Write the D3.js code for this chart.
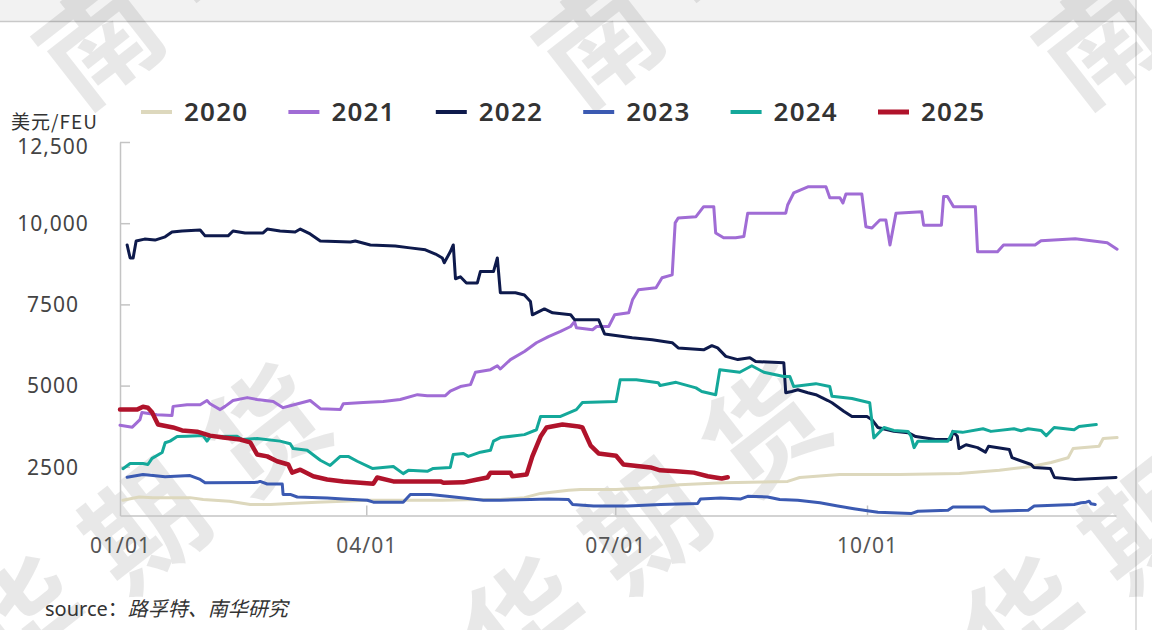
<!DOCTYPE html>
<html>
<head>
<meta charset="utf-8">
<script src="https://cdn.jsdelivr.net/npm/d3@7"></script>
<style>
  body { margin: 0; background: #fff; }
  svg { display: block; font-family: "Noto Sans", "Noto Sans CJK SC", sans-serif; }
</style>
</head>
<body>
<svg id="chart" width="1152" height="630"></svg>
<script>
// Series: [day of year, USD/FEU]
const s2020 = [[1,1470],[7,1570],[12,1550],[25.6,1550],[30.4,1490],[40,1440],[47.6,1340],[55,1340],[62,1370],[72,1410],[81.6,1440],[90.4,1470],[106,1470],[118,1470],[130.6,1490],[139,1490],[147.8,1550],[153.7,1680],[164,1780],[168.3,1800],[181.3,1800],[194.5,1860],[204.5,1950],[220.6,2010],[244,2050],[248.4,2170],[263,2260],[285,2260],[306.8,2290],[321.4,2390],[333,2510],[340.3,2630],[346.5,2780],[348.3,3060],[357.8,3130],[359.3,3370],[364.4,3400]];
const s2021 = [[0,3780],[4.5,3720],[7.3,3950],[8,4170],[13.5,4100],[19,4080],[19.4,4360],[24.5,4410],[29.3,4410],[31.8,4540],[32.9,4440],[36.6,4260],[38.4,4360],[41.3,4540],[46.5,4630],[50.1,4570],[56,4510],[59.6,4320],[62.2,4380],[69.5,4540],[73.2,4290],[80.5,4260],[81.6,4440],[88.9,4480],[96.2,4510],[102.4,4570],[108.7,4720],[112.3,4690],[118.9,4690],[120.7,4830],[124.4,4970],[128.1,5030],[129.9,5410],[135.4,5490],[137.9,5610],[139,5510],[142.7,5800],[147.8,6050],[152.2,6320],[156.6,6510],[161,6670],[164.7,6820],[166.1,6970],[166.8,6780],[172.7,6720],[174.2,6820],[178.6,6820],[180.8,7180],[185.9,7240],[187.3,7640],[189.5,7950],[195.9,8010],[198.1,8320],[201.8,8410],[202.9,10010],[204,10160],[210.5,10200],[213.3,10510],[217,10510],[217.7,9700],[220.6,9550],[225,9550],[228,9590],[229.4,10310],[243.3,10310],[244,10560],[246.2,10930],[251.4,11120],[258,11120],[259.4,10780],[263.1,10780],[264.2,10620],[265.3,10900],[271.1,10900],[272.6,9890],[274.8,9850],[277.7,10100],[279.9,10100],[281.4,9330],[283.6,10310],[293,10350],[293.7,9940],[300.2,9940],[301,10820],[302.4,10820],[304.6,10510],[312.6,10510],[313.4,9120],[320.7,9120],[322.9,9330],[334.4,9330],[336.6,9460],[349.1,9520],[360.8,9400],[364.4,9200]];
const s2022 = [[2.6,9330],[3.7,8930],[4.8,8930],[5.9,9450],[9,9510],[12.8,9480],[16.5,9580],[19,9730],[22.7,9760],[29.3,9790],[31.1,9610],[39.5,9610],[41.3,9760],[45.7,9700],[52.3,9700],[53.8,9820],[58.5,9760],[64,9730],[65.9,9820],[69.5,9670],[73.2,9450],[84.2,9420],[86,9450],[91.5,9330],[100.6,9300],[106,9240],[111.6,9180],[115.3,9050],[117.8,8930],[118.5,8780],[120.7,9120],[121.8,9330],[122.6,8290],[124.4,8350],[126.6,8160],[130.6,8160],[131.7,8510],[136.5,8510],[137.9,8930],[139,7860],[144.5,7860],[147.8,7790],[150,7590],[150.7,7180],[155.1,7360],[158.1,7240],[164.7,7180],[166.1,7030],[174.9,7030],[177.1,6590],[187.2,6470],[194.5,6410],[201.8,6320],[204,6160],[213.3,6100],[216.3,6230],[218.4,6160],[221.4,5900],[225.8,5800],[230.2,5860],[232.3,5740],[242.6,5700],[243.3,4780],[245.5,4820],[247.7,4870],[251.4,4780],[254.3,4720],[258.7,4540],[260.2,4470],[264.5,4210],[267.5,4050],[273,4050],[274.8,3950],[277,3710],[282.8,3590],[288,3550],[290.8,3430],[298,3340],[303.7,3340],[304.4,3590],[306,3440],[306.6,3060],[309.2,3180],[313.4,3090],[316.3,2950],[317.4,3130],[325,3030],[326,2780],[333,2570],[334,2480],[340,2450],[341.5,2170],[349,2110],[364,2170]];
const s2023 = [[2.6,2180],[8.4,2260],[12.1,2230],[16.5,2190],[25.6,2230],[29.3,2110],[31.1,2010],[50.1,2020],[51.2,2050],[53.8,1970],[59.3,1970],[59.6,1650],[62.2,1650],[64.8,1570],[75.7,1540],[81.6,1510],[90.4,1470],[92.6,1410],[103.5,1410],[106.1,1650],[113.4,1650],[119.6,1590],[125.5,1540],[132.8,1470],[139,1470],[150,1490],[156.6,1510],[163.9,1490],[165.4,1340],[173.1,1290],[185.5,1290],[197.6,1340],[211.1,1370],[212.2,1510],[219.5,1540],[226.9,1510],[229.4,1590],[236.7,1570],[241.1,1490],[247.7,1470],[255.8,1390],[262.3,1290],[268.2,1210],[274.4,1130],[277,1100],[289.1,1060],[291.6,1130],[302.6,1160],[304.4,1260],[315.8,1260],[318.3,1130],[331.9,1160],[334.1,1290],[348.7,1340],[351.3,1390],[353.1,1410],[354.2,1440],[354.9,1360],[356.4,1340]];
const s2024 = [[1.1,2440],[3.7,2600],[8.4,2600],[10.2,2570],[11.7,2760],[15.4,2940],[16.5,3240],[18.3,3290],[20.9,3430],[24.5,3440],[30.4,3460],[31.8,3290],[32.9,3430],[42.8,3440],[44.6,3340],[50.1,3370],[58.5,3290],[62.2,3210],[63.3,3060],[68.4,3010],[73.2,2700],[76.8,2540],[80.5,2820],[83.4,2820],[86.7,2670],[92.2,2450],[99.9,2510],[103.5,2290],[105.4,2390],[112.3,2360],[114.5,2450],[120.7,2480],[121.8,2880],[125.5,2910],[127.3,2820],[131.7,2950],[135.4,3010],[136.5,3290],[139,3400],[147.8,3490],[152.2,3640],[153.7,4050],[161,4050],[166.8,4260],[169,4480],[181.3,4510],[182.8,5180],[188.7,5180],[196.7,5090],[197.4,5000],[203.2,5100],[210.5,4930],[212.6,4820],[217.7,4720],[219.2,5490],[226.5,5410],[230.9,5610],[235.3,5410],[242.6,5280],[244.8,5280],[246.2,4970],[254.3,5060],[259.4,4970],[260.2,4670],[267.5,4600],[274,4470],[275.5,3390],[279.2,3710],[282.8,3620],[288,3590],[289.1,3440],[290.2,3090],[291.6,3290],[302.6,3290],[304.4,3590],[307.9,3560],[315.4,3670],[318.3,3590],[326.7,3670],[329.3,3610],[331.9,3670],[336.6,3620],[338.5,3460],[341.4,3710],[348.7,3640],[350.5,3740],[356.8,3800]];
const s2025 = [[0,4260],[6.2,4260],[8.4,4350],[10.2,4320],[11.7,4180],[13.9,3800],[19.4,3710],[22.7,3620],[28.2,3580],[32.9,3460],[37.7,3400],[43.9,3340],[47.6,3250],[50.1,2880],[53.8,2820],[57.4,2670],[61.5,2570],[62.9,2320],[65.9,2410],[70.6,2210],[75.7,2110],[81.6,2050],[87.8,2010],[92.6,1980],[94,2170],[99.9,2050],[117.1,2050],[118.2,2010],[125.5,2020],[130.6,2110],[134.3,2170],[135.4,2320],[142.7,2320],[143.4,2210],[148.6,2260],[150.7,2820],[153.7,3430],[155.9,3710],[161.7,3800],[167.6,3740],[169,3710],[172,3150],[174.9,2910],[181.3,2840],[184,2570],[193.9,2480],[197.4,2390],[203.2,2360],[209.7,2320],[214.8,2210],[219.9,2140],[222.1,2180]];

const years = ['2020', '2021', '2022', '2023', '2024', '2025'];
const seriesData = [s2020, s2021, s2022, s2023, s2024, s2025];
const colors = ['#ddd8bd', '#a06cd5', '#0e1a4c', '#3b5ab2', '#14a89a', '#b0132b'];
const widths = [3, 3, 3, 3, 3, 4.5];

const yTicks = [2500, 5000, 7500, 10000, 12500];
const yTickLabels = ['2500', '5000', '7500', '10,000', '12,500'];
const xTickDates = ['01-01', '04-01', '07-01', '10-01'];
const xTickLabels = ['01/01', '04/01', '07/01', '10/01'];

const svg = d3.select('#chart');
const height = 630;

// screenshot frame: grey strip on top, line on the right
svg.append('rect').attr('x', 0).attr('y', 0).attr('width', 1136).attr('height', 21).attr('fill', '#f2f2f2');
svg.append('line').attr('x1', 0).attr('x2', 1136).attr('y1', 21.5).attr('y2', 21.5)
  .attr('stroke', '#c9c9c9').attr('stroke-width', 1.5);
svg.append('line').attr('x1', 1136).attr('x2', 1136).attr('y1', 0).attr('y2', height)
  .attr('stroke', '#d4d4d4').attr('stroke-width', 1.5);

// watermark 南华期货, tiled diagonally
const wmOrigins = [[400, 710], [-100, 710], [900, 710], [595, 35], [95, 35], [1095, 35]];
const wmChars = ['南', '华', '期', '货'];
const wm = svg.append('g').attr('fill', '#000').attr('fill-opacity', 0.09)
  .attr('font-family', '"Noto Sans CJK SC", sans-serif').attr('font-weight', 700).attr('font-size', 118);
wmOrigins.forEach(([ox, oy]) => {
  wmChars.forEach((ch, k) => {
    wm.append('text')
      .attr('transform', `translate(${ox + k * 120},${oy - k * 95}) rotate(-38)`)
      .attr('text-anchor', 'middle')
      .attr('dominant-baseline', 'central')
      .text(ch);
  });
});

const jan1 = new Date(2001, 0, 1);
const dayToDate = d => new Date(jan1.getTime() + d * 864e5);
const parseMD = d3.timeParse('%Y-%m-%d');

const x = d3.scaleTime().domain([jan1, new Date(2001, 11, 31)]).range([120, 1116]);
const y = d3.scaleLinear().domain([1000, 12500]).range([515.5, 142]);

// y axis
const yAxis = svg.append('g').attr('transform', 'translate(120,0)')
  .call(d3.axisLeft(y).tickValues(yTicks).tickSizeInner(-10).tickSizeOuter(0)
    .tickFormat((d, i) => yTickLabels[i]));
yAxis.select('.domain').attr('stroke', '#c4c4c4').attr('stroke-width', 1.5);
yAxis.selectAll('.tick line').attr('stroke', '#c4c4c4').attr('stroke-width', 1.5);
yAxis.selectAll('.tick text')
  .attr('x', -67).attr('text-anchor', 'middle')
  .attr('dy', d => d === 12500 ? '0.55em' : '0.35em')
  .attr('font-size', 21).attr('letter-spacing', 1).attr('fill', '#444')
  .attr('font-family', '"Noto Sans", sans-serif');

// x axis
const xAxis = svg.append('g').attr('transform', 'translate(0,515.5)')
  .call(d3.axisBottom(x).tickValues(xTickDates.map(d => parseMD('2001-' + d))).tickSizeInner(-10).tickSizeOuter(0)
    .tickFormat((d, i) => xTickLabels[i]));
xAxis.select('.domain').attr('stroke', '#c4c4c4').attr('stroke-width', 1.5);
xAxis.selectAll('.tick line').attr('stroke', '#c4c4c4').attr('stroke-width', 1.5)
  .filter((d, i) => i === 0).remove();
xAxis.selectAll('.tick text')
  .attr('y', 30).attr('dy', '0.35em')
  .attr('font-size', 21).attr('letter-spacing', 1).attr('fill', '#555')
  .attr('font-family', '"Noto Sans", sans-serif');

// lines
const line = d3.line()
  .x(d => x(dayToDate(d[0])))
  .y(d => y(d[1]));

svg.append('g').selectAll('path')
  .data(seriesData)
  .join('path')
  .attr('d', line)
  .attr('fill', 'none')
  .attr('stroke', (d, i) => colors[i])
  .attr('stroke-width', (d, i) => widths[i])
  .attr('stroke-linejoin', 'round')
  .attr('stroke-linecap', 'round');

// unit label
svg.append('text')
  .attr('x', 11).attr('y', 122).attr('dy', '0.35em')
  .attr('font-size', 19).attr('letter-spacing', 1).attr('fill', '#333')
  .attr('font-family', '"Noto Sans CJK SC", "Noto Sans", sans-serif')
  .text('美元/FEU');

// legend
const legend = svg.append('g').selectAll('g')
  .data(years)
  .join('g')
  .attr('transform', (d, i) => `translate(${141 + i * 147.4},112)`);
legend.append('line')
  .attr('x1', 0).attr('x2', 31).attr('y1', 0).attr('y2', 0)
  .attr('stroke', (d, i) => colors[i])
  .attr('stroke-width', (d, i) => i === 5 ? 5 : 4);
legend.append('text')
  .attr('x', 43).attr('y', 0).attr('dy', '0.36em')
  .attr('font-size', 26).attr('font-weight', 600).attr('letter-spacing', 1.2).attr('fill', '#333')
  .text(d => d);

// source note
const src = svg.append('text')
  .attr('x', 45).attr('y', 609).attr('dy', '0.35em')
  .attr('font-size', 20).attr('fill', '#333')
  .attr('font-family', '"Noto Sans CJK SC", sans-serif');
src.append('tspan').attr('font-family', '"Noto Sans", sans-serif').text('source');
src.append('tspan').text('：');
src.append('tspan').attr('font-style', 'italic').text('路孚特、南华研究');
</script>
</body>
</html>
